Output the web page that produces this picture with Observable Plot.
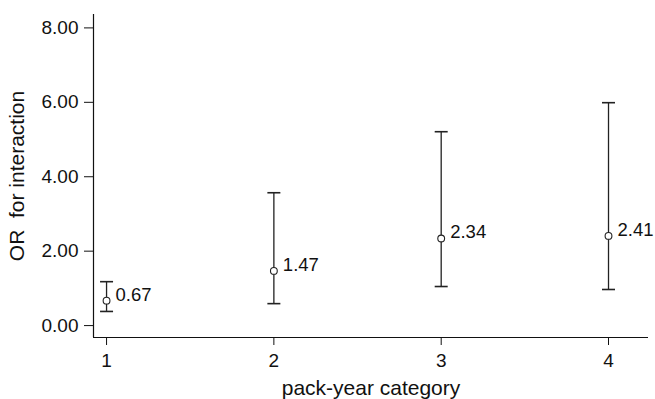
<!DOCTYPE html>
<html>
<head>
<meta charset="utf-8">
<script src="https://cdn.jsdelivr.net/npm/d3@7"></script>
<script src="https://cdn.jsdelivr.net/npm/@observablehq/plot@0.6"></script>
<style>
  html, body { margin: 0; padding: 0; background: #fff; }
  svg { display: block; }
</style>
</head>
<body>
<div id="chart"></div>
<script>
const categories = [1, 2, 3, 4];
const orValues = [0.67, 1.47, 2.34, 2.41];
const lowerCI = [0.38, 0.59, 1.05, 0.97];
const upperCI = [1.18, 3.57, 5.21, 5.99];
const yTicks = [0, 2, 4, 6, 8];
const xTicks = [1, 2, 3, 4];

const data = categories.map((c, i) => ({
  cat: c, or: orValues[i], lo: lowerCI[i], hi: upperCI[i]
}));

const font = "Liberation Sans, Arial, Helvetica, sans-serif";

// horizontal cap symbol for error bars
const capSymbol = {
  draw(context, size) {
    const w = 6.5;
    context.moveTo(-w, 0);
    context.lineTo(w, 0);
  }
};

const plot = Plot.plot({
  width: 655,
  height: 399,
  marginLeft: 93,
  marginRight: 7,
  marginTop: 14,
  marginBottom: 62,
  style: { fontFamily: font, fontSize: "19px", color: "#111", background: "#fff" },
  x: { type: "linear", domain: [0.922, 4.239] },
  y: { type: "linear", domain: [-0.32, 8.36] },
  marks: [
    Plot.ruleX([0.922], { stroke: "#111", strokeWidth: 1.2 }),
    Plot.ruleY([-0.32], { stroke: "#111", strokeWidth: 1.2 }),
    Plot.axisY({
      ticks: yTicks, tickSize: 9, tickPadding: 6, tickFormat: d => d.toFixed(2),
      fontSize: 19, stroke: "#111", fill: "#111", label: null
    }),
    Plot.axisX({
      ticks: xTicks, tickSize: 8, tickPadding: 8, tickFormat: d => String(d),
      fontSize: 19, stroke: "#111", fill: "#111", label: null
    }),
    Plot.text(["OR\u00a0\u00a0for interaction"], {
      frameAnchor: "left", textAnchor: "middle", dx: -76, rotate: -90, fontSize: 21, fill: "#111"
    }),
    Plot.text(["pack-year category"], {
      frameAnchor: "bottom", dy: 57, fontSize: 21, fill: "#111"
    }),
    Plot.ruleX(data, { x: "cat", y1: "lo", y2: "hi", stroke: "#222", strokeWidth: 1.3 }),
    Plot.dot(data, { x: "cat", y: "hi", symbol: capSymbol, r: 6, fill: "none", stroke: "#222", strokeWidth: 1.6 }),
    Plot.dot(data, { x: "cat", y: "lo", symbol: capSymbol, r: 6, fill: "none", stroke: "#222", strokeWidth: 1.6 }),
    Plot.dot(data, { x: "cat", y: "or", r: 3.4, stroke: "#222", fill: "#fff", strokeWidth: 1.1 }),
    Plot.text(data, { x: "cat", y: "or", text: d => d.or.toFixed(2), dx: 9, dy: -6, textAnchor: "start", fontSize: 18.5, fill: "#111" })
  ]
});

document.getElementById("chart").appendChild(plot);
</script>
</body>
</html>
